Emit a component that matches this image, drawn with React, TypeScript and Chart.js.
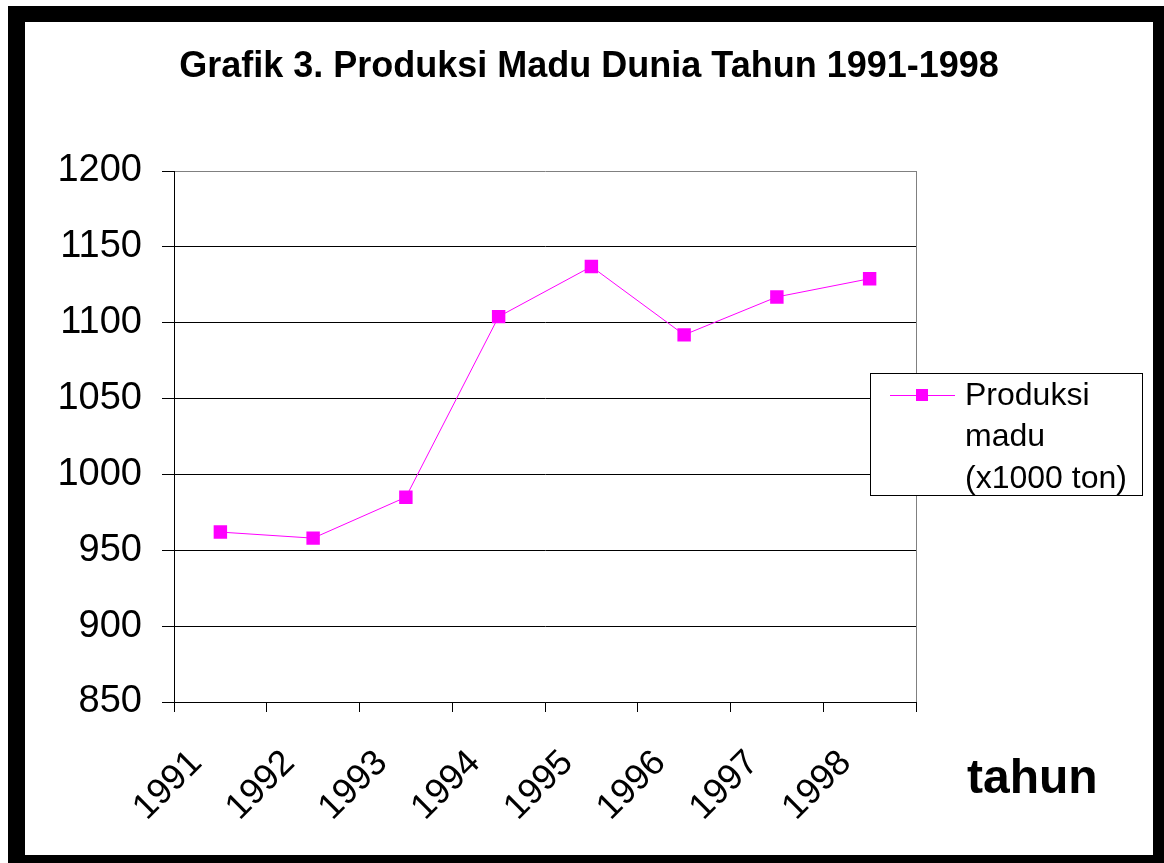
import React, { useEffect, useRef } from "react";
import { Chart, registerables } from "chart.js";

Chart.register(...registerables);

const titleText = "Grafik 3. Produksi Madu Dunia Tahun 1991-1998";
const years = ["1991", "1992", "1993", "1994", "1995", "1996", "1997", "1998"];
const production = [962, 958, 985, 1104, 1137, 1092, 1117, 1129];
const legendLines = ["Produksi", "madu", "(x1000 ton)"];
const xAxisTitle = "tahun";
const yMin = 850;
const yMax = 1200;
const yStep = 50;

const FONT = "'Liberation Sans', Arial, sans-serif";
const MAGENTA = "#FF00FF";

const overlayPlugin = {
  id: "overlay",
  afterDraw(chart: any) {
    const { ctx, chartArea: a, width } = chart;
    ctx.save();
    // right plot border (gray)
    ctx.strokeStyle = "#808080";
    ctx.lineWidth = 1;
    const rx = Math.round(a.right) + 0.5;
    ctx.beginPath();
    ctx.moveTo(rx, Math.round(a.top));
    ctx.lineTo(rx, Math.round(a.bottom));
    ctx.stroke();

    // title
    ctx.fillStyle = "#000";
    ctx.font = `bold 36px ${FONT}`;
    ctx.textAlign = "center";
    ctx.textBaseline = "alphabetic";
    ctx.fillText(titleText, width / 2, 55);

    // x axis title
    ctx.font = `bold 48px ${FONT}`;
    ctx.textAlign = "left";
    ctx.fillText(xAxisTitle, a.right + 51, 771);

    // legend
    const bx = Math.round(a.right) - 46;
    const by = 351;
    const bw = 272;
    const bh = 122;
    ctx.fillStyle = "#fff";
    ctx.fillRect(bx, by, bw, bh);
    ctx.strokeStyle = "#000";
    ctx.lineWidth = 1;
    ctx.strokeRect(bx + 0.5, by + 0.5, bw, bh);
    const ly = by + 22.5;
    ctx.strokeStyle = MAGENTA;
    ctx.beginPath();
    ctx.moveTo(bx + 20, ly);
    ctx.lineTo(bx + 85, ly);
    ctx.stroke();
    ctx.fillStyle = MAGENTA;
    ctx.fillRect(bx + 46, ly - 6.5, 12, 12);
    ctx.fillStyle = "#000";
    ctx.font = `32px ${FONT}`;
    ctx.textAlign = "left";
    const baselines = [383, 424, 466];
    legendLines.forEach((t, i) => ctx.fillText(t, bx + 95, baselines[i]));
    ctx.restore();
  },
};

export default function App() {
  const ref = useRef<HTMLCanvasElement>(null);
  useEffect(() => {
    if (!ref.current) return;
    const chart = new Chart(ref.current, {
      type: "line",
      data: {
        labels: years,
        datasets: [
          {
            label: legendLines.join(" "),
            data: production,
            borderColor: MAGENTA,
            backgroundColor: MAGENTA,
            borderWidth: 1,
            pointStyle: "rect",
            pointRadius: 9.5,
            pointBorderWidth: 0,
            pointBackgroundColor: MAGENTA,
            tension: 0,
          },
        ],
      },
      options: {
        responsive: false,
        animation: false,
        devicePixelRatio: 1,
        layout: { padding: { left: 0, top: 149, right: 237, bottom: 3 } },
        plugins: {
          legend: { display: false },
          title: { display: false },
          tooltip: { enabled: false },
        },
        scales: {
          x: {
            type: "category",
            offset: true,
            afterFit: (s: any) => {
              s.height = 150;
            },
            grid: {
              offset: true,
              drawOnChartArea: false,
              drawTicks: true,
              tickLength: 10,
              tickColor: "#000",
              color: "#000",
            },
            border: { color: "#000", width: 1 },
            ticks: {
              minRotation: 45,
              maxRotation: 45,
              autoSkip: false,
              color: "#000",
              font: { family: FONT, size: 36 },
              padding: 30,
              labelOffset: -24,
            },
          },
          y: {
            min: yMin,
            max: yMax,
            afterFit: (s: any) => {
              s.width = 149;
            },
            grid: {
              color: (c: any) => (c.tick && c.tick.value === yMax ? "#808080" : "#000"),
              tickColor: "#000",
              tickLength: 12,
              lineWidth: 1,
            },
            border: { color: "#000", width: 1 },
            ticks: {
              stepSize: yStep,
              color: "#000",
              font: { family: FONT, size: 38 },
              padding: 20,
              callback: (v: any) => String(v),
            },
          },
        },
      },
      plugins: [overlayPlugin],
    });
    return () => chart.destroy();
  }, []);

  return (
    <div
      style={{
        position: "absolute",
        left: 8,
        top: 6,
        width: 1156,
        height: 857,
        background: "#000",
      }}
    >
      <div
        style={{
          position: "absolute",
          left: 17,
          top: 16,
          width: 1128,
          height: 833,
          background: "#fff",
        }}
      >
        <canvas ref={ref} width={1128} height={833} style={{ display: "block" }} />
      </div>
    </div>
  );
}
